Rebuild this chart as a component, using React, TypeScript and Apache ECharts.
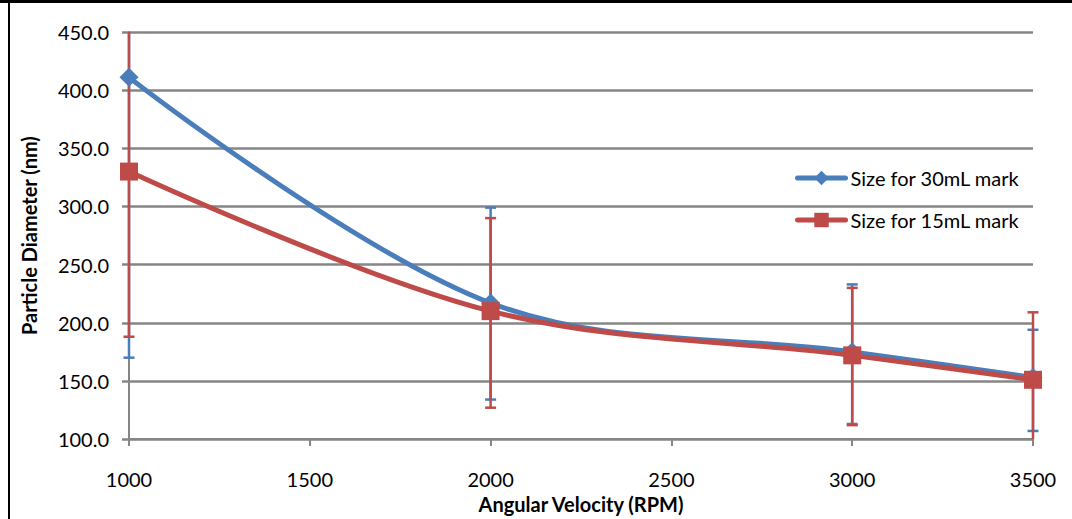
import React, { useEffect, useRef } from "react";
import * as echarts from "echarts";

const rpm = [1000, 2000, 3000, 3500];
const size30 = [411, 217, 175, 153];
const size30Upper = [652, 299, 233, 194];
const size30Lower = [170, 134, 113, 107];
const size15 = [330, 210, 172, 151];
const size15Upper = [472, 290, 230, 209];
const size15Lower = [188, 127, 112, 93];
const seriesNames = ["Size for 30mL mark", "Size for 15mL mark"];
const xTitle = "Angular Velocity (RPM)";
const yTitle = "Particle Diameter (nm)";
const Y_MIN = 100;
const Y_MAX = 450;

const BLUE = "#4A7EBB";
const RED = "#BE4B48";
const GRAY = "#868686";
const FONT = "Lato";
const FS = 20;

function errorSeries(color: string, lower: number[], upper: number[]) {
  return {
    type: "custom",
    clip: false,
    silent: true,
    z: 2,
    encode: { x: 0, y: [1, 2] },
    data: rpm.map((x, i) => [x, lower[i], upper[i]]),
    renderItem: (params: any, api: any) => {
      const x = api.value(0);
      const loV = api.value(1);
      const hiV = api.value(2);
      const lo = api.coord([x, Math.max(Y_MIN, loV)]);
      const hi = api.coord([x, Math.min(Y_MAX, hiV)]);
      const half = 5.5;
      const style = { stroke: color, lineWidth: 2.5 };
      const children: any[] = [
        { type: "line", shape: { x1: lo[0], y1: lo[1], x2: hi[0], y2: hi[1] }, style },
      ];
      if (loV >= Y_MIN)
        children.push({ type: "line", shape: { x1: lo[0] - half, y1: lo[1], x2: lo[0] + half, y2: lo[1] }, style });
      if (hiV <= Y_MAX)
        children.push({ type: "line", shape: { x1: hi[0] - half, y1: hi[1], x2: hi[0] + half, y2: hi[1] }, style });
      return { type: "group", children };
    },
  };
}

export default function App() {
  const ref = useRef<HTMLDivElement>(null);
  useEffect(() => {
    if (!ref.current) return;
    const chart = echarts.init(ref.current, null, { renderer: "svg" });
    chart.setOption({
      animation: false,
      backgroundColor: "#ffffff",
      textStyle: { fontFamily: FONT },
      grid: { left: 129, right: 39, top: 32, bottom: 79 },
      xAxis: {
        type: "value",
        min: 1000,
        max: 3500,
        interval: 500,
        name: xTitle,
        nameLocation: "middle",
        nameGap: 49,
        nameTextStyle: { fontFamily: FONT, fontSize: FS, fontWeight: "bold", color: "#000" },
        axisLine: { show: true, lineStyle: { color: GRAY, width: 2 } },
        axisTick: { show: true, length: 7, lineStyle: { color: GRAY, width: 2 } },
        axisLabel: {
          fontFamily: FONT,
          fontSize: FS,
          color: "#000",
          margin: 30,
          formatter: (v: number) => String(v),
        },
        splitLine: { show: false },
      },
      yAxis: {
        type: "value",
        min: Y_MIN,
        max: Y_MAX,
        interval: 50,
        name: yTitle,
        nameLocation: "middle",
        nameGap: 90,
        nameRotate: 90,
        nameTextStyle: { fontFamily: FONT, fontSize: FS, fontWeight: "bold", color: "#000" },
        axisLine: { show: true, lineStyle: { color: GRAY, width: 2 } },
        axisTick: { show: true, length: 7, lineStyle: { color: GRAY, width: 2.5 } },
        axisLabel: {
          fontFamily: FONT,
          fontSize: FS,
          color: "#000",
          margin: 20,
          formatter: (v: number) => v.toFixed(1),
        },
        splitLine: { show: true, lineStyle: { color: GRAY, width: 2.5 } },
      },
      legend: {
        orient: "vertical",
        left: 790,
        top: 163,
        itemWidth: 48,
        itemHeight: 18,
        itemGap: 22,
        lineStyle: { width: 5, cap: "round" },
        textStyle: { fontFamily: FONT, fontSize: FS, color: "#000" },
        data: seriesNames,
      },
      graphic: [
        { type: "rect", shape: { x: 0, y: 0, width: 1072, height: 3 }, style: { fill: "#000" } },
        { type: "rect", shape: { x: 8, y: 0, width: 2, height: 519 }, style: { fill: "#000" } },
      ],
      series: [
        errorSeries(BLUE, size30Lower, size30Upper),
        {
          name: seriesNames[0],
          type: "line",
          z: 3,
          smooth: 0.35,
          data: rpm.map((x, i) => [x, size30[i]]),
          symbol: "diamond",
          symbolSize: 19,
          itemStyle: { color: BLUE },
          lineStyle: { color: BLUE, width: 5, cap: "round" },
        },
        errorSeries(RED, size15Lower, size15Upper),
        {
          name: seriesNames[1],
          type: "line",
          z: 5,
          smooth: 0.35,
          data: rpm.map((x, i) => [x, size15[i]]),
          symbol: "rect",
          symbolSize: 18,
          itemStyle: { color: RED },
          lineStyle: { color: RED, width: 5, cap: "round" },
        },
      ],
    });
    return () => chart.dispose();
  }, []);
  return (
    <div
      ref={ref}
      style={{ position: "fixed", left: 0, top: 0, width: 1072, height: 519 }}
    />
  );
}
